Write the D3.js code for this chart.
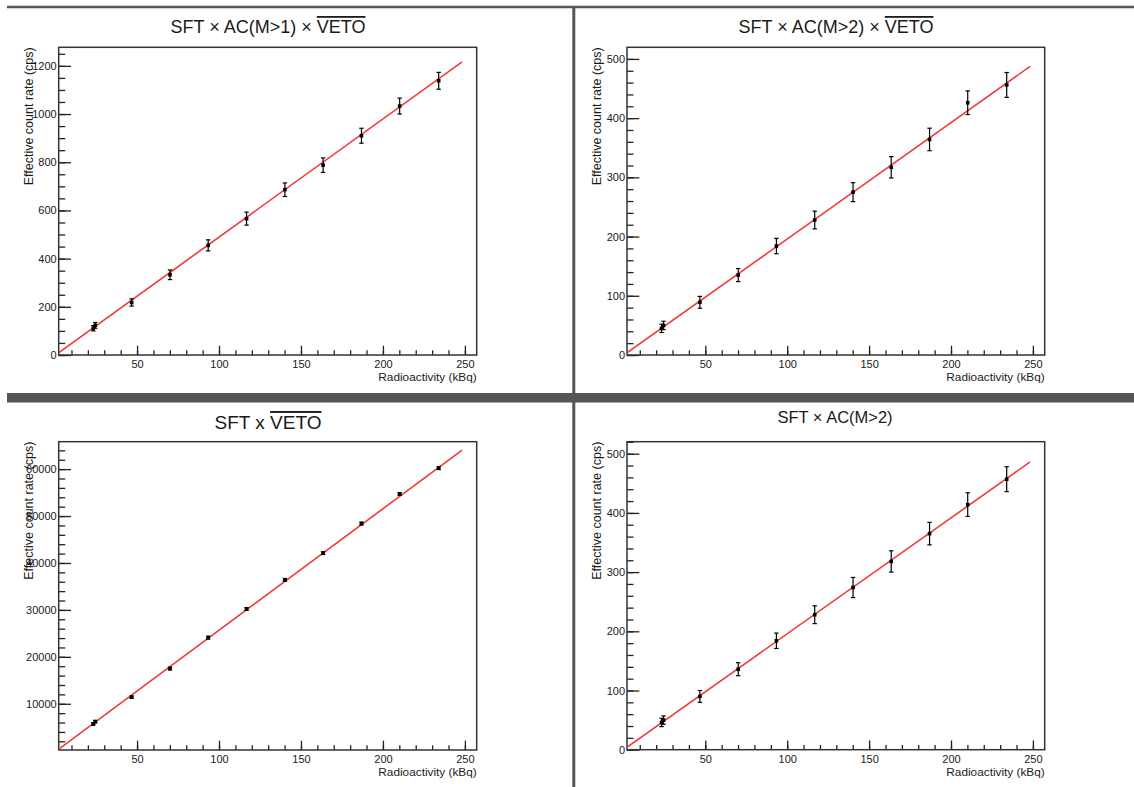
<!DOCTYPE html>
<html>
<head>
<meta charset="utf-8">
<script src="https://cdn.jsdelivr.net/npm/d3@7"></script>
<style>
  body { margin: 0; background: #fff; }
  svg { display: block; font-family: "Liberation Sans", Arial, sans-serif; }
  text { fill: #1a1a1a; }
</style>
</head>
<body>
<svg width="1134" height="787"></svg>
<script>
// activity of the source (kBq), shared by all four panels
var activity = [23.3, 24.5, 46.7, 70.1, 93.4, 116.8, 140.2, 163.5, 186.9, 210.2, 234.0];
var activityErr = [0.8, 0.8, 0.8, 0.8, 0.8, 0.8, 0.8, 0.8, 0.8, 0.8, 0.8];

// effective count rates (cps) and errors
var rateM1Veto = [111, 123, 218, 333, 455, 566, 686, 788, 910, 1033, 1138];
var errM1Veto = [11, 12, 15, 20, 23, 27, 28, 30, 31, 33, 35];
var rateM2Veto = [45, 50, 89, 135, 184, 228, 275, 317, 364, 426, 456];
var errM2Veto = [7, 7, 10, 11, 13, 15, 16, 18, 19, 20, 21];
var rateVeto = [5700, 6200, 11400, 17500, 24100, 30200, 36400, 42100, 48400, 54700, 60200];
var errVeto = [250, 250, 250, 300, 300, 300, 300, 300, 300, 300, 300];
var rateM2 = [46, 50, 90, 136, 184, 228, 274, 318, 365, 414, 457];
var errM2 = [7, 7, 10, 11, 13, 15, 17, 18, 19, 20, 21];

// linear fit parameters [intercept, slope]
var fitM1Veto = [-1.3, 4.906];
var fitM2Veto = [-0.7, 1.966];
var fitVeto = [-243, 259.0];
var fitM2 = [0.0, 1.958];
var fitRange = [0, 248.3];

var xDomain = [2.2, 257.2];
var xMajor = [50, 100, 150, 200, 250];
var xMinor = d3.range(10, 260, 10);

var svg = d3.select("svg");

// pad separators
svg.append("line").attr("x1", 7).attr("x2", 1134).attr("y1", 7).attr("y2", 7)
    .attr("stroke", "#555").attr("stroke-width", 2.5);
svg.append("rect").attr("x", 7).attr("y", 393).attr("width", 1127).attr("height", 9.5)
    .attr("fill", "#555");
svg.append("line").attr("x1", 573.8).attr("x2", 573.8).attr("y1", 6).attr("y2", 787)
    .attr("stroke", "#555").attr("stroke-width", 3);

var panels = [
    { title: ["SFT × AC(M>1) × ", "VETO"], tsize: 18, tx: 268, ty: 33,
      box: [58.7, 47.3, 476.7, 355], yDomain: [0, 1277], yMajor: d3.range(0, 1201, 200), yMinor: d3.range(0, 1277, 50),
      rate: rateM1Veto, err: errM1Veto, fit: fitM1Veto },
    { title: ["SFT × AC(M>2) × ", "VETO"], tsize: 18, tx: 836, ty: 33,
      box: [627, 47.3, 1044.7, 355], yDomain: [0, 519.6], yMajor: d3.range(0, 501, 100), yMinor: d3.range(0, 519, 20),
      rate: rateM2Veto, err: errM2Veto, fit: fitM2Veto },
    { title: ["SFT x ", "VETO"], tsize: 19, tx: 268, ty: 429,
      box: [58.7, 441.7, 476.7, 750], yDomain: [150, 65840], yMajor: d3.range(10000, 60001, 10000), yMinor: d3.range(2000, 65840, 2000),
      rate: rateVeto, err: errVeto, fit: fitVeto },
    { title: ["SFT × AC(M>2)", ""], tsize: 16.5, tx: 835, ty: 423,
      box: [627, 441.7, 1044.7, 749.7], yDomain: [0, 520.3], yMajor: d3.range(0, 501, 100), yMinor: d3.range(0, 521, 20),
      rate: rateM2, err: errM2, fit: fitM2 }
];

panels.forEach(function (p, i) {
    var x0 = p.box[0], y0 = p.box[1], x1 = p.box[2], y1 = p.box[3];
    var x = d3.scaleLinear().domain(xDomain).range([x0, x1]);
    var y = d3.scaleLinear().domain(p.yDomain).range([y1, y0]);

    // title
    var t = svg.append("text").attr("x", p.tx).attr("y", p.ty)
        .attr("text-anchor", "middle").attr("font-size", p.tsize);
    t.append("tspan").text(p.title[0]);
    if (p.title[1]) t.append("tspan").attr("text-decoration", "overline").text(p.title[1]);

    var g = svg.append("g");

    // x axis ticks (inside the frame)
    g.append("g").attr("transform", "translate(0," + y1 + ")")
        .call(d3.axisBottom(x).tickValues(xMinor).tickSizeInner(-4.7).tickSizeOuter(0).tickFormat(""))
        .call(function (a) { a.select(".domain").remove(); });
    g.append("g").attr("transform", "translate(0," + y1 + ")")
        .call(d3.axisBottom(x).tickValues(xMajor).tickSizeInner(-9.3).tickSizeOuter(0).tickPadding(5.5))
        .call(function (a) { a.select(".domain").remove(); });

    // y axis ticks
    g.append("g").attr("transform", "translate(" + x0 + ",0)")
        .call(d3.axisLeft(y).tickValues(p.yMinor).tickSizeInner(-6.5).tickSizeOuter(0).tickFormat(""))
        .call(function (a) { a.select(".domain").remove(); });
    g.append("g").attr("transform", "translate(" + x0 + ",0)")
        .call(d3.axisLeft(y).tickValues(p.yMajor).tickSizeInner(-12.3).tickSizeOuter(0).tickPadding(2)
            .tickFormat(d3.format("d")))
        .call(function (a) { a.select(".domain").remove(); });

    g.selectAll(".tick line").attr("stroke", "#222").attr("stroke-width", 1.3);
    g.selectAll(".tick text").attr("font-size", 11).attr("fill", "#1a1a1a")
        .attr("font-family", "Liberation Sans, Arial, sans-serif");

    // frame
    svg.append("rect").attr("x", x0).attr("y", y0).attr("width", x1 - x0).attr("height", y1 - y0)
        .attr("fill", "none").attr("stroke", "#333").attr("stroke-width", 1.5);

    // axis titles
    svg.append("text").attr("x", x1).attr("y", y1 + 26).attr("text-anchor", "end")
        .attr("font-size", 11.8).text("Radioactivity (kBq)");
    svg.append("text").attr("transform", "translate(" + (x0 - 26) + "," + y0 + ") rotate(-90)")
        .attr("text-anchor", "end").attr("font-size", 12.5).text("Effective count rate (cps)");

    // fit line
    var clipId = "clip" + i;
    svg.append("clipPath").attr("id", clipId).append("rect")
        .attr("x", x0).attr("y", y0).attr("width", x1 - x0).attr("height", y1 - y0);
    var fitLine = d3.line().x(function (d) { return x(d); })
        .y(function (d) { return y(p.fit[0] + p.fit[1] * d); });
    svg.append("path").datum(fitRange).attr("d", fitLine)
        .attr("clip-path", "url(#" + clipId + ")")
        .attr("fill", "none").attr("stroke", "#f03a3a").attr("stroke-width", 1.6);

    // points with error bars
    var pts = svg.append("g").selectAll("g").data(activity).enter().append("g");
    pts.append("line")
        .attr("x1", function (d) { return x(d); }).attr("x2", function (d) { return x(d); })
        .attr("y1", function (d, j) { return y(p.rate[j] - p.err[j]); })
        .attr("y2", function (d, j) { return y(p.rate[j] + p.err[j]); })
        .attr("stroke", "#000").attr("stroke-width", 1.2);
    [-1, 1].forEach(function (s) {
        pts.append("line")
            .attr("x1", function (d) { return x(d) - 2.2; }).attr("x2", function (d) { return x(d) + 2.2; })
            .attr("y1", function (d, j) { return y(p.rate[j] + s * p.err[j]); })
            .attr("y2", function (d, j) { return y(p.rate[j] + s * p.err[j]); })
            .attr("stroke", "#000").attr("stroke-width", 1.2);
    });
    pts.append("line")
        .attr("x1", function (d, j) { return x(d - activityErr[j]); })
        .attr("x2", function (d, j) { return x(d + activityErr[j]); })
        .attr("y1", function (d, j) { return y(p.rate[j]); })
        .attr("y2", function (d, j) { return y(p.rate[j]); })
        .attr("stroke", "#000").attr("stroke-width", 1.2);
    pts.append("rect")
        .attr("x", function (d) { return x(d) - 1.8; })
        .attr("y", function (d, j) { return y(p.rate[j]) - 1.8; })
        .attr("width", 3.6).attr("height", 3.6).attr("fill", "#000");
});
</script>
</body>
</html>
